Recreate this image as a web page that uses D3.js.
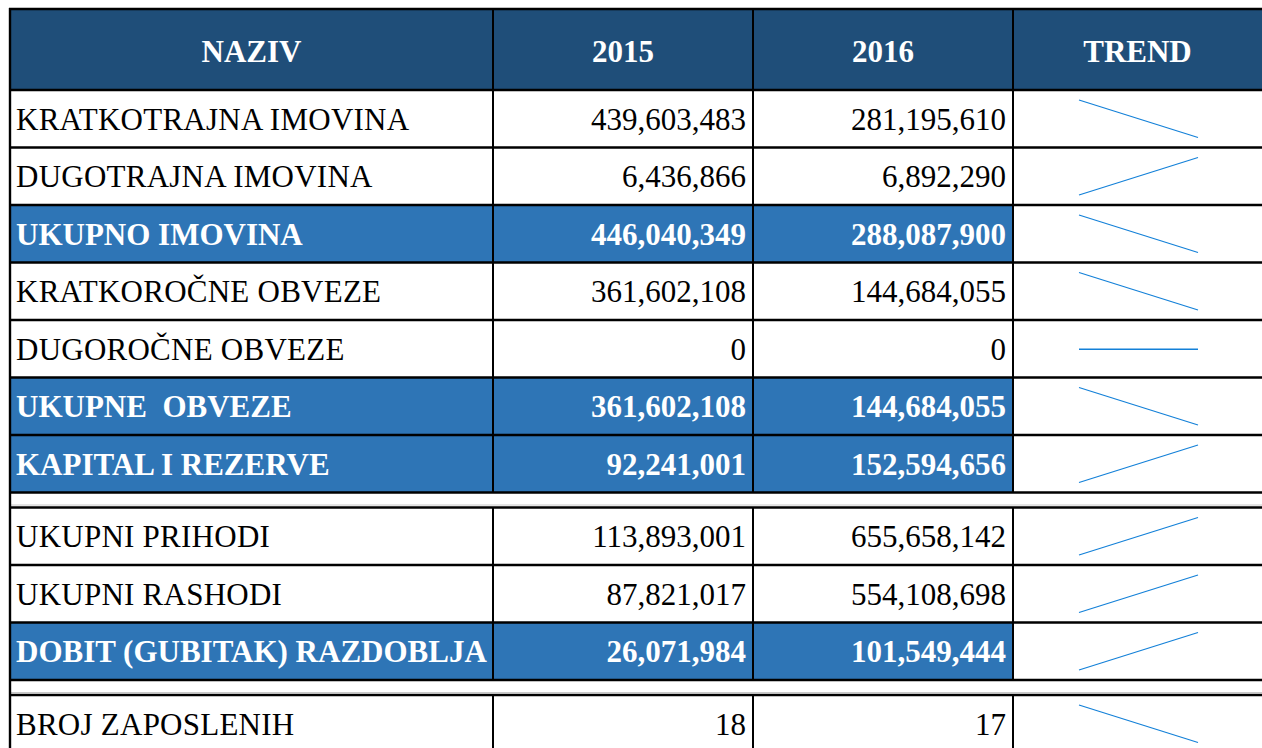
<!DOCTYPE html>
<html>
<head>
<meta charset="utf-8">
<script src="https://cdn.jsdelivr.net/npm/d3@7"></script>
<style>
  html, body { margin: 0; padding: 0; background: #fff; overflow: hidden; }
  svg { display: block; }
  svg text { font-family: 'Liberation Serif', Tinos, 'Times New Roman', 'DejaVu Serif', serif; font-size: 31px; }
</style>
</head>
<body>
<svg id="chart" width="1262" height="748"></svg>
<script>
// podaci iz tablice (null = prazan razmak izmedju blokova)
const headers = ['NAZIV', '2015', '2016', 'TREND'];
const years = ['2015', '2016'];
const labels = [
  'KRATKOTRAJNA IMOVINA', 'DUGOTRAJNA IMOVINA', 'UKUPNO IMOVINA',
  'KRATKOROČNE OBVEZE', 'DUGOROČNE OBVEZE', 'UKUPNE  OBVEZE', 'KAPITAL I REZERVE',
  null,
  'UKUPNI PRIHODI', 'UKUPNI RASHODI', 'DOBIT (GUBITAK) RAZDOBLJA',
  null,
  'BROJ ZAPOSLENIH'
];
const values2015 = [439603483, 6436866, 446040349, 361602108, 0, 361602108, 92241001, null, 113893001, 87821017, 26071984, null, 18];
const values2016 = [281195610, 6892290, 288087900, 144684055, 0, 144684055, 152594656, null, 655658142, 554108698, 101549444, null, 17];
const totals = ['UKUPNO IMOVINA', 'UKUPNE  OBVEZE', 'KAPITAL I REZERVE', 'DOBIT (GUBITAK) RAZDOBLJA'];

const svg = d3.select('#chart');
const fmt = d3.format(',');

const colX = [10, 493, 753, 1013, 1264];
const tableTop = 9, headH = 81, rowH = 57.5, gapH = 15;
const headBlue = '#1F4E79', totalBlue = '#2E75B6', lineBlue = '#1380D8';

// raspored redova
let yPos = tableTop + headH;
const rows = labels.map((l, i) => {
  const h = l === null ? gapH : rowH;
  const r = { label: l, v: [values2015[i], values2016[i]], y0: yPos, y1: yPos + h, gap: l === null, total: totals.includes(l) };
  yPos += h;
  return r;
});

// zaglavlje
svg.append('rect').attr('x', colX[0]).attr('y', tableTop).attr('width', colX[4] - colX[0]).attr('height', headH).attr('fill', headBlue);
svg.selectAll('text.head').data(headers).join('text')
  .attr('class', 'head')
  .attr('x', (d, i) => (colX[i] + colX[i + 1]) / 2 - (i === 3 ? 1 : 0))
  .attr('y', tableTop + headH / 2 + 12)
  .attr('text-anchor', 'middle')
  .attr('fill', '#fff')
  .attr('font-weight', 'bold')
  .text(d => d);

const dataRows = rows.filter(r => !r.gap);

// plave pozadine za ukupne iznose
svg.selectAll('rect.tot').data(dataRows.filter(r => r.total)).join('rect')
  .attr('class', 'tot')
  .attr('x', colX[0]).attr('y', d => d.y0)
  .attr('width', colX[3] - colX[0]).attr('height', d => d.y1 - d.y0)
  .attr('fill', totalBlue);

// nazivi
svg.selectAll('text.lab').data(dataRows).join('text')
  .attr('class', 'lab')
  .attr('x', colX[0] + 6)
  .attr('y', d => (d.y0 + d.y1) / 2 + 11)
  .attr('fill', d => d.total ? '#fff' : '#000')
  .attr('font-weight', d => d.total ? 'bold' : 'normal')
  .attr('letter-spacing', d => d.total ? 0 : 0.25)
  .style('white-space', 'pre')
  .text(d => d.label);

// vrijednosti
years.forEach((yr, k) => {
  svg.selectAll('text.v' + yr).data(dataRows).join('text')
    .attr('class', 'v' + yr)
    .attr('x', colX[k + 2] - 7)
    .attr('y', d => (d.y0 + d.y1) / 2 + 11)
    .attr('text-anchor', 'end')
    .attr('fill', d => d.total ? '#fff' : '#000')
    .attr('font-weight', d => d.total ? 'bold' : 'normal')
    .text(d => fmt(d.v[k]));
});

// trend linije (sparkline)
const sx = d3.scalePoint().domain(years).range([1079, 1198]);
dataRows.forEach(r => {
  const [lo, hi] = d3.extent(r.v);
  const sy = d3.scaleLinear().domain([lo, hi]).range([r.y1 - 10, r.y0 + 10]);
  const mid = (r.y0 + r.y1) / 2 + 0.5;
  const line = d3.line()
    .x((d, i) => sx(years[i]))
    .y(d => lo === hi ? mid : sy(d));
  svg.append('path')
    .attr('d', line(r.v))
    .attr('fill', 'none')
    .attr('stroke', lineBlue)
    .attr('stroke-width', lo === hi ? 1.6 : 1.2);
});

// rubovi
const bw = 2.4;
// vodoravne crte
const hLines = [tableTop, tableTop + headH];
rows.forEach(r => { hLines.push(r.y1); });
svg.selectAll('line.h').data(hLines).join('line')
  .attr('class', 'h')
  .attr('x1', colX[0] - 1).attr('x2', colX[4])
  .attr('y1', d => d).attr('y2', d => d)
  .attr('stroke', '#000').attr('stroke-width', bw);
// sive crte u razmacima
svg.selectAll('line.g').data(rows.filter(r => r.gap)).join('line')
  .attr('class', 'g')
  .attr('x1', colX[0]).attr('x2', colX[4])
  .attr('y1', d => d.y1 - 2.5).attr('y2', d => d.y1 - 2.5)
  .attr('stroke', '#c8c8c8').attr('stroke-width', 1);
// okomite crte
const blocks = [{ y0: tableTop, y1: tableTop + headH }].concat(dataRows);
blocks.forEach(b => {
  svg.append('g').selectAll('line').data(colX.slice(1)).join('line')
    .attr('x1', d => d).attr('x2', d => d)
    .attr('y1', b.y0).attr('y2', b.y1)
    .attr('stroke', '#000').attr('stroke-width', 2);
});
svg.append('line')
  .attr('x1', colX[0]).attr('x2', colX[0])
  .attr('y1', tableTop - 1).attr('y2', yPos)
  .attr('stroke', '#000').attr('stroke-width', 2.4);
</script>
</body>
</html>
